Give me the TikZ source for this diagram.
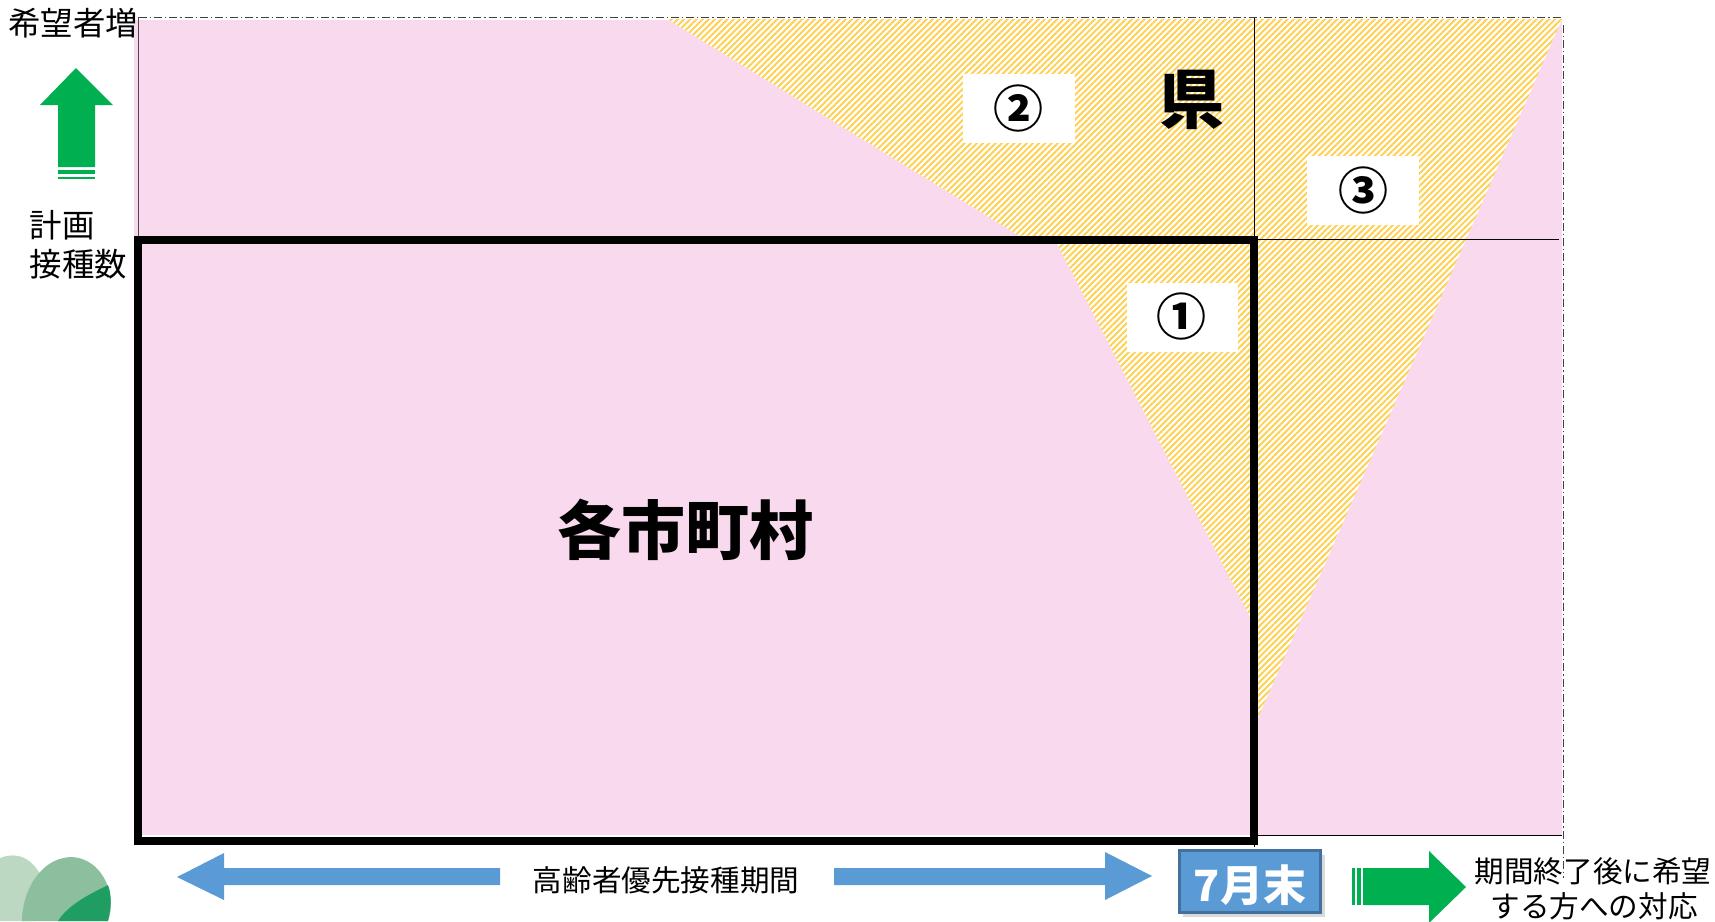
\documentclass[tikz,border=0pt]{standalone}
\usepackage{fontspec}
\setmainfont{Noto Sans CJK JP}
\usetikzlibrary{patterns.meta,shadows}
\definecolor{pinkfill}{HTML}{F8D9EE}
\definecolor{hatchyel}{HTML}{FFD050}
\definecolor{arrgreen}{HTML}{00B050}
\definecolor{arrblue}{HTML}{5B9BD5}
\definecolor{boxedge}{HTML}{41719C}
\definecolor{leaflight}{HTML}{BDD8C2}
\definecolor{leafmid}{HTML}{8CBF9E}
\definecolor{leafdark}{HTML}{1F9D63}
\newcommand{\pxfont}[1]{\pgfmathsetmacro{\pxsz}{#1*0.75}\pgfmathsetmacro{\pxld}{#1*0.975}\fontsize{\pxsz}{\pxld}\selectfont}
\tikzset{
  hatchfill/.style={fill=white,postaction={pattern={Lines[angle=45,distance=3.3pt,line width=1.45pt]},pattern color=hatchyel}},
  whitebox/.style={fill=white,draw=none},
  thinline/.style={draw=black,line width=0.6pt},
  dashline/.style={draw=black!75,line width=0.7pt,dash pattern=on 6pt off 2.2pt on 1pt off 2.2pt},
  greenarrow/.style={fill=arrgreen,draw=none},
  bluearrow/.style={fill=arrblue,draw=none},
  label/.style={inner sep=0pt,text=black},
  numlabel/.style={inner sep=0pt,font=\bfseries\pxfont{50}},
}
\begin{document}
\begin{tikzpicture}[x=0.75pt,y=-0.75pt]
\useasboundingbox (0,0) rectangle (1715,921);
\clip (0,0) rectangle (1715,921);
% pink field
\fill[pinkfill] (134,20) rectangle (1562,835);
% hatched regions
\path[hatchfill] (667,19) -- (1562,19) -- (1258,718) -- (1254,718) -- (1254,240) -- (1026,240) -- cycle;
\path[hatchfill] (1055,240) -- (1250,240) -- (1250,617) -- cycle;
% thin frame lines
\draw[thinline,draw=black!70] (138.5,17) -- (138.5,238);
\draw[thinline] (1254.5,17) -- (1254.5,240);
\draw[thinline] (1254,239) -- (1559,239);
\draw[thinline] (1254,835.5) -- (1562,835.5);
\draw[thinline] (1254,841) -- (1254,847);
\draw[dashline] (139,17) -- (1562,17);
\draw[dashline] (1563,25) -- (1563,878);
% thick municipal frame
\draw[line width=6pt,draw=black,miter limit=10] (137.5,240) rectangle (1253.5,841);
% white label boxes
\fill[whitebox] (1127,283) rectangle (1238,352);
\fill[whitebox] (963,74) rectangle (1075,143);
\fill[whitebox] (1307,156) rectangle (1419,225);
\node[numlabel] (n1) at (1181,316) {①};
\node[numlabel] (n2) at (1018,108) {②};
\node[numlabel] (n3) at (1363,190) {③};
% big labels
\node[label,font=\bfseries\pxfont{65}] (ken) at (1192,100) {県};
\node[label,font=\bfseries\pxfont{64}] (muni) at (685,530) {各市町村};
% left labels
\node[label,font=\pxfont{32.4}] (kibou) at (73,23) {希望者増};
\node[label,font=\pxfont{32.4},anchor=west] (keikaku) at (29.5,225) {計画};
\node[label,font=\pxfont{32.4},anchor=west] (sesshu) at (29.5,264.5) {接種数};
% up arrow
\fill[greenarrow] (76,68) -- (113,105) -- (95,105) -- (95,167) -- (58,167) -- (58,105) -- (40,105) -- cycle;
\fill[greenarrow] (58,169.5) rectangle (95,174);
\fill[greenarrow] (58,176.5) rectangle (95,179);
% blue arrows
\fill[bluearrow] (177,877) -- (224,853) -- (224,868) -- (500,868) -- (500,885) -- (224,885) -- (224,900) -- cycle;
\fill[bluearrow] (1152,876) -- (1105,852) -- (1105,868) -- (834,868) -- (834,885) -- (1105,885) -- (1105,900) -- cycle;
\node[label,font=\pxfont{29.6}] (period) at (666,880.5) {高齢者優先接種期間};
% July box
\node[fill=arrblue,draw=boxedge,line width=2pt,minimum width=106pt,minimum height=46.5pt,inner sep=0pt,
      text=white,font=\bfseries\pxfont{43},drop shadow={shadow xshift=3pt,shadow yshift=-3pt,opacity=0.3}] (july) at (1250,881.5) {\raisebox{-15pt}[0pt][0pt]{7月末}};
% right arrow
\fill[greenarrow] (1352,868) rectangle (1354.5,905);
\fill[greenarrow] (1356.5,868) rectangle (1361,905);
\fill[greenarrow] (1363,868) -- (1429,868) -- (1429,851) -- (1466,887) -- (1429,923) -- (1429,905) -- (1363,905) -- cycle;
\node[label,font=\pxfont{29.6}] (after1) at (1593,871) {期間終了後に希望};
\node[label,font=\pxfont{29.6}] (after2) at (1594,906) {する方への対応};
% leaves
\fill[leaflight] (0,858) .. controls (10,854) and (26,852) .. (39,872) .. controls (46,890) and (40,910) .. (36,921) -- (0,921) -- cycle;
\fill[leafmid] (22,921) .. controls (22,905) and (28,885) .. (40,872) .. controls (50,861) and (60,858) .. (70,857) .. controls (95,857) and (110,880) .. (111,903) .. controls (111,910) and (110,915) .. (108,921) -- cycle;
\fill[leafdark] (58,921) .. controls (68,905) and (88,895) .. (108,885) .. controls (112,895) and (111,908) .. (108,921) -- cycle;
\end{tikzpicture}
\end{document}
